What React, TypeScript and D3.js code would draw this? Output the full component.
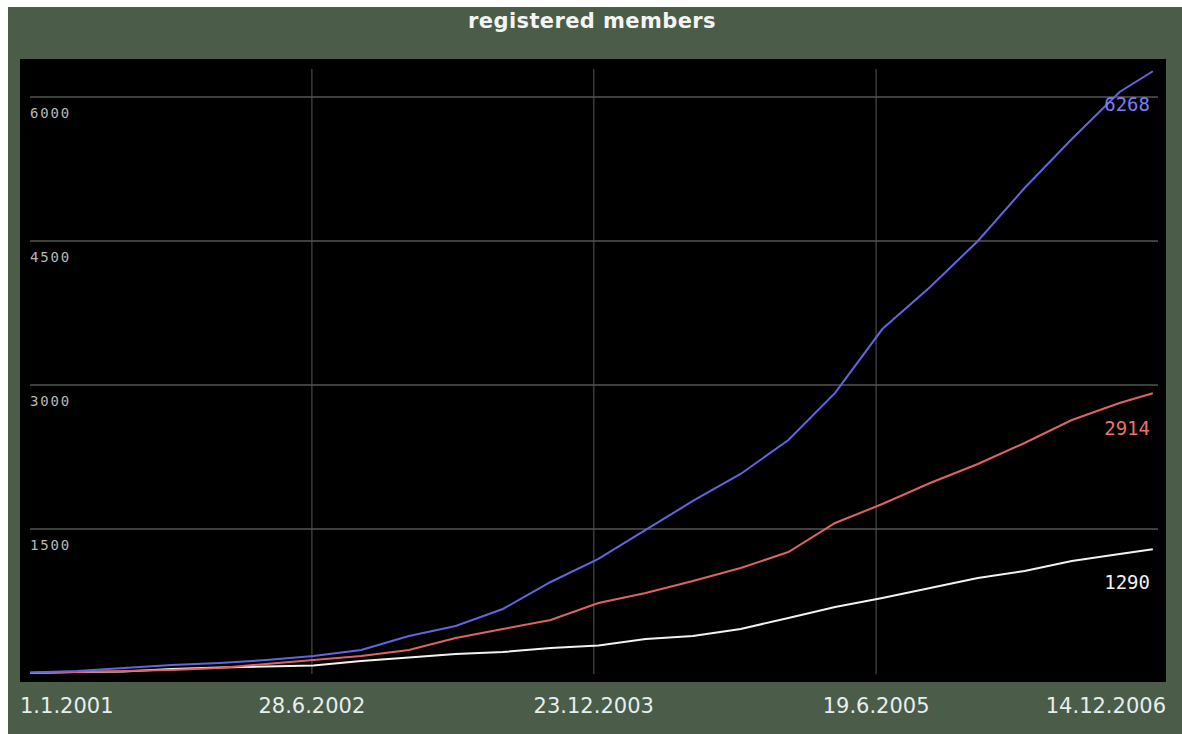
import React, { useEffect, useRef } from 'react';
import * as d3 from 'd3';

// quarterly readings, plus the last day shown
const dates = [
  '2001-01-01', '2001-04-01', '2001-07-01', '2001-10-01',
  '2002-01-01', '2002-04-01', '2002-07-01', '2002-10-01',
  '2003-01-01', '2003-04-01', '2003-07-01', '2003-10-01',
  '2004-01-01', '2004-04-01', '2004-07-01', '2004-10-01',
  '2005-01-01', '2005-04-01', '2005-07-01', '2005-10-01',
  '2006-01-01', '2006-04-01', '2006-07-01', '2006-10-01',
  '2006-12-04',
];
const blueValues = [
  5, 21, 52, 83, 104, 135, 177, 240, 385, 490, 667, 948,
  1188, 1490, 1792, 2073, 2427, 2917, 3583, 4021, 4500, 5052, 5563, 6052, 6268,
];
const redValues = [
  3, 10, 21, 31, 52, 94, 135, 177, 240, 365, 458, 552,
  729, 833, 958, 1094, 1260, 1563, 1760, 1979, 2177, 2396, 2635, 2812, 2914,
];
const whiteValues = [
  0, 10, 16, 42, 57, 68, 78, 125, 161, 198, 219, 260,
  286, 354, 385, 458, 573, 688, 781, 885, 990, 1063, 1167, 1240, 1290,
];
const yTicks = [1500, 3000, 4500, 6000];
const xTickLabels = ['1.1.2001', '28.6.2002', '23.12.2003', '19.6.2005', '14.12.2006'];

const series = [
  { values: whiteValues, color: '#f2f2f2', label: '#f2f2f2', dy: 40 },
  { values: redValues, color: '#dc6464', label: '#ee7070', dy: 42 },
  { values: blueValues, color: '#6464e0', label: '#7c7cf4', dy: 40 },
];

const App = () => {
  const svgRef = useRef<SVGSVGElement>(null);

  useEffect(() => {
    const width = 1182;
    const height = 734;
    const svg = d3.select(svgRef.current);
    svg.selectAll('*').remove();
    svg.attr('width', width).attr('height', height);

    // panel + plot area
    svg.append('rect').attr('x', 8).attr('y', 7).attr('width', width - 8).attr('height', height - 7).attr('fill', '#4b5c49');
    svg.append('rect').attr('x', 20).attr('y', 59).attr('width', 1146).attr('height', 623).attr('fill', '#000');

    svg.append('text')
      .attr('x', 592).attr('y', 28)
      .attr('text-anchor', 'middle')
      .attr('font-family', 'DejaVu Sans, Verdana, sans-serif')
      .attr('font-weight', 'bold')
      .attr('font-size', 21)
      .attr('letter-spacing', 0.4)
      .attr('fill', '#f4f4f4')
      .text('registered members');

    const parse = d3.timeParse('%Y-%m-%d');
    const tickDates = ['2001-01-01', '2002-06-28', '2003-12-23', '2005-06-19', '2006-12-14'].map(d => parse(d)!);

    const x = d3.scaleTime()
      .domain([tickDates[0], tickDates[tickDates.length - 1]])
      .range([30, 1158]);
    const y = d3.scaleLinear().domain([0, 6000]).range([673, 97]);

    // vertical grid
    svg.append('g').selectAll('line')
      .data(tickDates.slice(1, -1))
      .enter().append('line')
      .attr('x1', d => x(d)).attr('x2', d => x(d))
      .attr('y1', 69).attr('y2', 674)
      .attr('stroke', '#3a3a3a').attr('stroke-width', 1.5);

    // horizontal grid + labels
    const yg = svg.append('g');
    yg.selectAll('line')
      .data(yTicks)
      .enter().append('line')
      .attr('x1', 30).attr('x2', 1158)
      .attr('y1', d => y(d)).attr('y2', d => y(d))
      .attr('stroke', '#555').attr('stroke-width', 1.5);
    yg.selectAll('text')
      .data(yTicks)
      .enter().append('text')
      .attr('x', 30).attr('y', d => y(d) + 21)
      .attr('font-family', 'DejaVu Sans Mono, monospace')
      .attr('font-size', 14)
      .attr('letter-spacing', 1.8)
      .attr('fill', '#b8b8b8')
      .text(d => d);

    // x labels, first and last kept inside the panel
    svg.append('g').selectAll('text')
      .data(tickDates)
      .enter().append('text')
      .attr('x', (d, i) => i === 0 ? 20 : i === tickDates.length - 1 ? 1166 : x(d))
      .attr('y', 713)
      .attr('text-anchor', (d, i) => i === 0 ? 'start' : i === tickDates.length - 1 ? 'end' : 'middle')
      .attr('font-family', 'DejaVu Sans, Verdana, sans-serif')
      .attr('font-size', 21)
      .attr('fill', '#e6eeee')
      .text((d, i) => xTickLabels[i]);

    const pts = dates.map(d => parse(d)!);
    const line = d3.line<number>()
      .x((d, i) => x(pts[i]))
      .y(d => y(d));

    series.forEach(s => {
      svg.append('path')
        .datum(s.values)
        .attr('d', line)
        .attr('fill', 'none')
        .attr('stroke', s.color)
        .attr('stroke-width', 2);
      const last = s.values[s.values.length - 1];
      svg.append('text')
        .attr('x', 1150)
        .attr('y', y(last) + s.dy)
        .attr('text-anchor', 'end')
        .attr('font-family', 'DejaVu Sans Mono, monospace')
        .attr('font-size', 19)
        .attr('fill', s.label)
        .text(last);
    });
  }, []);

  return (
    <div style={{ position: 'absolute', left: 0, top: 0, overflow: 'hidden' }}>
      <svg ref={svgRef} style={{ display: 'block' }}></svg>
    </div>
  );
};

export default App;
